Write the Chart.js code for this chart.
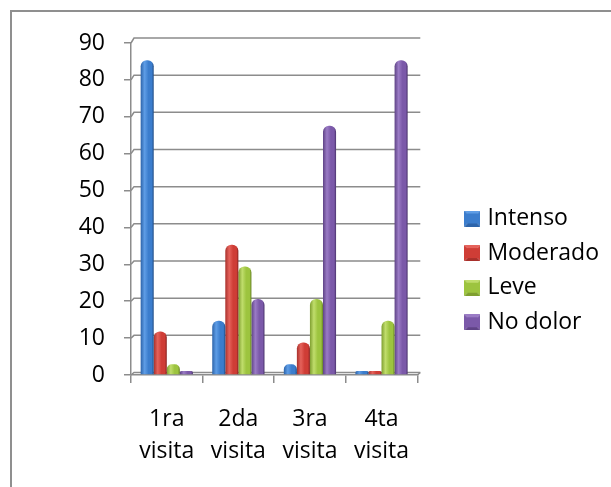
<!DOCTYPE html>
<html>
<head>
<meta charset="utf-8">
<script src="https://cdn.jsdelivr.net/npm/chart.js@4.4.1/dist/chart.umd.min.js"></script>
<style>
  html, body { margin: 0; padding: 0; background: #fff; overflow: hidden; }
  #frame { position: absolute; left: 10px; top: 10px; width: 700px; height: 600px;
           border: 2px solid #8f8f8f; box-sizing: border-box; }
  #wrap { position: absolute; left: 0; top: 0; width: 611px; height: 487px; }
</style>
</head>
<body>
<div id="frame"></div>
<div id="wrap"><canvas id="c"></canvas></div>
<script>
// Categories and series (percent of patients per visit)
const visits = [['1ra', 'visita'], ['2da', 'visita'], ['3ra', 'visita'], ['4ta', 'visita']];
const seriesNames = ['Intenso', 'Moderado', 'Leve', 'No dolor'];
const intenso  = [85.3, 14.7, 2.9, 0];
const moderado = [11.8, 35.3, 8.8, 0];
const leve     = [2.9, 29.4, 20.6, 14.7];
const noDolor  = [0, 20.6, 67.6, 85.3];
const yMin = 0, yMax = 90, yStep = 10;

// Shading per series: [left edge, highlight, body, right edge]
const shades = [
  ['#2d64aa', '#5e9de6', '#3b7dcd', '#214c84'],
  ['#a8302b', '#e5625b', '#cf3d36', '#85221f'],
  ['#7f9f30', '#c0dd6c', '#9dc43f', '#678226'],
  ['#5f4386', '#9a7bc5', '#7b59a9', '#4a336c']
];

const FONT = { family: "'Open Sans', sans-serif", size: 23 };
const AXIS_GREY = '#8c8c8c';

function cylinder(s) {
  return (c) => {
    const el = c.element;
    if (c.type !== 'data' || !el || !Number.isFinite(el.x) || !el.width) return s[2];
    const l = el.x - el.width / 2, r = el.x + el.width / 2;
    const g = c.chart.ctx.createLinearGradient(l, 0, r, 0);
    g.addColorStop(0, s[0]);
    g.addColorStop(0.3, s[1]);
    g.addColorStop(0.6, s[2]);
    g.addColorStop(0.85, s[2]);
    g.addColorStop(1, s[3]);
    return g;
  };
}

// Bevelled square used as the legend key
function keyIcon(s) {
  const cv = document.createElement('canvas');
  cv.width = 16; cv.height = 16;
  const x = cv.getContext('2d');
  const tri = (pts, col) => {
    x.beginPath(); x.moveTo(pts[0], pts[1]);
    for (let i = 2; i < pts.length; i += 2) x.lineTo(pts[i], pts[i + 1]);
    x.closePath(); x.fillStyle = col; x.fill();
  };
  tri([0, 0, 16, 0, 8, 8], s[1]);
  tri([0, 0, 0, 16, 8, 8], s[2]);
  tri([16, 0, 16, 16, 8, 8], s[2]);
  tri([0, 16, 16, 16, 8, 8], s[0]);
  x.fillStyle = s[2];
  x.fillRect(3, 3, 10, 10);
  return cv;
}
const icons = shades.map(keyIcon);

// Back wall grid lines (slightly raised behind the bars) and floor edge
const backWall = {
  id: 'backWall',
  beforeDatasetsDraw(chart) {
    const { ctx, chartArea: a, scales: { y } } = chart;
    ctx.save();
    ctx.strokeStyle = AXIS_GREY;
    ctx.lineWidth = 1.5;
    y.ticks.forEach(t => {
      const fy = y.getPixelForValue(t.value);
      const d = 2.5 + 2.5 * (t.value / yMax);
      ctx.beginPath();
      ctx.moveTo(a.left, fy);
      ctx.lineTo(a.left + 3, fy - d);
      ctx.lineTo(a.right + 3, fy - d);
      ctx.stroke();
    });
    ctx.beginPath();
    ctx.moveTo(a.right, a.bottom);
    ctx.lineTo(a.right + 3, a.bottom - 2.5);
    ctx.stroke();
    ctx.restore();
  }
};

const values = [intenso, moderado, leve, noDolor];
const datasets = values.map((v, i) => ({
  label: seriesNames[i],
  data: v,
  backgroundColor: cylinder(shades[i]),
  borderWidth: 0,
  borderRadius: { topLeft: 6, topRight: 6, bottomLeft: 0, bottomRight: 0 },
  borderSkipped: 'bottom',
  barPercentage: 1,
  categoryPercentage: 0.73,
  minBarLength: 4
}));

const chart = new Chart(document.getElementById('c'), {
  type: 'bar',
  data: { labels: visits, datasets },
  plugins: [backWall],
  options: {
    responsive: true,
    maintainAspectRatio: false,
    animation: false,
    layout: { padding: { left: 0, top: 43, right: 2, bottom: 0 } },
    plugins: {
      tooltip: { enabled: false },
      legend: {
        position: 'right',
        align: 'center',
        maxWidth: 220,
        title: { display: true, text: '', padding: 0, font: { size: 9 } },
        labels: {
          font: FONT,
          color: '#000',
          usePointStyle: true,
          pointStyleWidth: 7,
          padding: 11.6,
          generateLabels(ch) {
            const items = Chart.defaults.plugins.legend.labels.generateLabels(ch);
            items.forEach((it, i) => { it.pointStyle = icons[i]; });
            return items;
          }
        }
      }
    },
    scales: {
      x: {
        type: 'category',
        offset: true,
        grid: { display: true, drawOnChartArea: false, tickLength: 8, color: AXIS_GREY, lineWidth: 1.5, offset: true },
        border: { display: true, color: AXIS_GREY, width: 1.5 },
        ticks: { font: { ...FONT, lineHeight: 1.4 }, color: '#000', padding: 20, maxRotation: 0, autoSkip: false },
        afterFit(s) { s.height = 112; }
      },
      y: {
        min: yMin, max: yMax,
        grid: { display: true, drawOnChartArea: false, tickLength: 7, color: AXIS_GREY, lineWidth: 1.5 },
        border: { display: true, color: AXIS_GREY, width: 1.5 },
        ticks: { stepSize: yStep, font: FONT, color: '#000', padding: 19 },
        afterFit(s) { s.width = 131; }
      },
      gap: {
        type: 'linear',
        position: 'right',
        display: true,
        grid: { display: false },
        border: { display: false },
        ticks: { display: false },
        afterFit(s) { s.width = 40; }
      }
    }
  }
});
chart.update();
</script>
</body>
</html>
